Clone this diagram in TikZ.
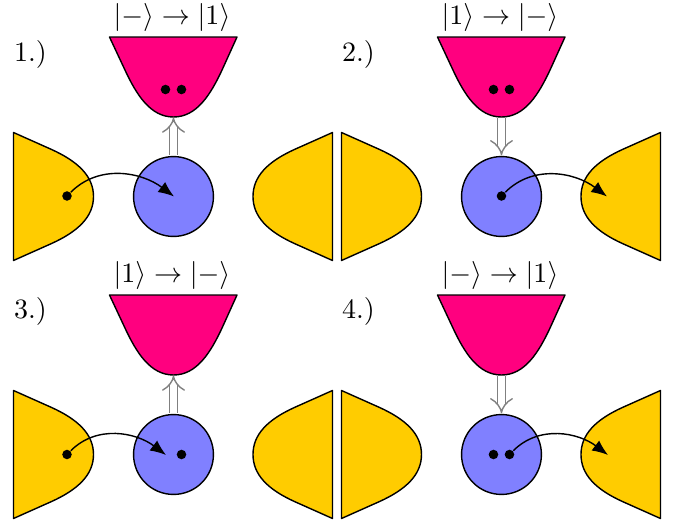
\documentclass[tikz,border=0pt]{standalone}
\usetikzlibrary{arrows.meta}
\definecolor{goldc}{HTML}{FFCC00}
\definecolor{pinkc}{HTML}{FF007F}
\definecolor{bluec}{HTML}{8080FF}
\tikzset{
  x=0.3567pt,y=-0.3567pt,
  outl/.style={draw=black,line width=0.5pt,line join=round},
  lead/.style={circle,fill=black,inner sep=0pt,minimum size=3.4pt},
  dotc/.style={circle,fill=black,inner sep=0pt,minimum size=3.4pt},
  qd/.style={outl,circle,fill=bluec,inner sep=0pt,minimum size=28.5pt},
  hop/.style={-{Latex[length=5.6pt,width=4.5pt]},line width=0.5pt,black,out=45,in=143,looseness=1},
  decay/.style={draw=gray,line width=0.5pt,double=white,double distance=2.4pt,-{Implies[scale=0.85]},shorten <=0.2pt,shorten >=0.2pt},
  lbl/.style={inner sep=0pt,anchor=west},
  panel/.pic={
    \path[outl,fill=goldc] (13.5,132.5) -- (50.5,149) .. controls (78.5,161.5) and (93.5,176.5) .. (93.5,196.5)
       .. controls (93.5,216.5) and (78.5,231.5) .. (50.5,244) -- (13.5,260.5) -- cycle;
    \path[outl,fill=goldc] (332.5,132.5) -- (295.5,149) .. controls (267.5,161.5) and (253,176.5) .. (253,196.5)
       .. controls (253,216.5) and (267.5,231.5) .. (295.5,244) -- (332.5,260.5) -- cycle;
    \path[outl,fill=pinkc] (109.5,37) -- (237,37) -- (222.5,69) .. controls (210.5,95) and (196.5,117) .. (173.5,117)
       .. controls (150.5,117) and (136.5,95) .. (124.5,69) -- cycle;
  }
}
\begin{document}
\begin{tikzpicture}
\useasboundingbox (0,0) rectangle (673,521);

% panel 1
\pic at (0,0) {panel};
\node[qd] (d1) at (173.5,196.5) {};
\coordinate (pb1) at (173.5,117);
\draw[decay] (d1.north) -- (pb1);
\node[lead] (s1) at (67,196) {};
\coordinate (e1) at (174,196.5);
\draw[hop] (s1) to (e1);
\node[dotc] (a1) at (165.5,89.5) {};
\node[dotc] (b1) at (181.5,89.5) {};
\node (t1) at (172,17) {$|-\rangle\rightarrow|1\rangle$};
\node[lbl] (n1) at (13.5,54) {1.)};

% panel 2
\pic at (328,0) {panel};
\node[qd] (d2) at (501.5,196.5) {};
\coordinate (pb2) at (501.5,117);
\draw[decay] (pb2) -- (d2.north);
\node[lead] (s2) at (501.5,196) {};
\coordinate (e2) at (607,196.5);
\draw[hop] (s2) to (e2);
\node[dotc] (a2) at (493.5,89.5) {};
\node[dotc] (b2) at (509.5,89.5) {};
\node (t2) at (500,17) {$|1\rangle\rightarrow|-\rangle$};
\node[lbl] (n2) at (341.5,54) {2.)};

% panel 3
\pic at (0,258) {panel};
\node[qd] (d3) at (173.5,454.5) {};
\coordinate (pb3) at (173.5,375);
\draw[decay] (d3.north) -- (pb3);
\node[lead] (s3) at (67,454.5) {};
\coordinate (e3) at (166,455);
\draw[hop] (s3) to (e3);
\node[dotc] (a3) at (181.5,454.5) {};
\node (t3) at (172,275) {$|1\rangle\rightarrow|-\rangle$};
\node[lbl] (n3) at (13.5,311) {3.)};

% panel 4
\pic at (328,258) {panel};
\node[qd] (d4) at (501.5,454.5) {};
\coordinate (pb4) at (501.5,375);
\draw[decay] (pb4) -- (d4.north);
\node[dotc] (a4) at (493.5,454.5) {};
\node[lead] (s4) at (509.5,454.5) {};
\coordinate (e4) at (608,455);
\draw[hop] (s4) to (e4);
\node (t4) at (500,275) {$|-\rangle\rightarrow|1\rangle$};
\node[lbl] (n4) at (341.5,311) {4.)};
\end{tikzpicture}
\end{document}
